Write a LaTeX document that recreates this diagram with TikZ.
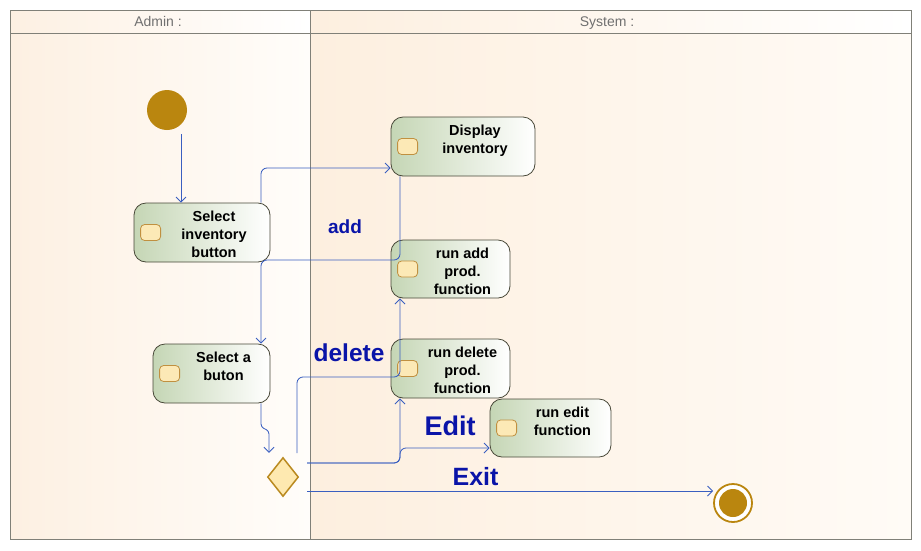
\documentclass[tikz,border=0pt]{standalone}
\usepackage{fontspec}
\setmainfont{Liberation Sans}
\usetikzlibrary{arrows.meta,shapes.geometric,calc}
\definecolor{frameg}{HTML}{808078}
\definecolor{laneL}{HTML}{FDF0E2}
\definecolor{laneR}{HTML}{FFFDFA}
\definecolor{laneL2}{HTML}{FDEFDF}
\definecolor{laneR2}{HTML}{FFFBF6}
\definecolor{headtxt}{HTML}{707070}
\definecolor{actborder}{HTML}{484838}
\definecolor{actL}{HTML}{C5D6B5}
\definecolor{iconfill}{HTML}{FCE9B6}
\definecolor{iconborder}{HTML}{C09040}
\definecolor{gold}{HTML}{BA860F}
\definecolor{diafill}{HTML}{FEE9B0}
\definecolor{diaborder}{HTML}{BA8A20}
\definecolor{flowblue}{HTML}{3A5FC0}
\definecolor{lblblue}{HTML}{0A14A8}
\newcommand\actbox[6]{%
  \node[act, minimum width=#4pt, minimum height=#5pt] (#1) at (#2,#3) {};
  \node[icon] (#1i) at ([xshift=17pt]#1.west) {};
  \node[acttext, anchor=north] (#1t) at ([xshift=12pt,yshift=-8.5pt]#1.north) {#6};
}
\begin{document}
\begin{tikzpicture}[x=1pt,y=-1pt,
  act/.style={draw=actborder, rounded corners=12pt, left color=actL, right color=white, inner sep=0pt, line width=0.8pt},
  icon/.style={draw=iconborder, fill=iconfill, rounded corners=4pt, minimum width=20pt, minimum height=16pt, inner sep=0pt, line width=0.8pt},
  acttext/.style={font=\bfseries\fontsize{14.5}{18}\selectfont, align=center, inner sep=0pt},
  lbl/.style={text=lblblue, font=\bfseries, inner sep=0pt},
  flow/.style={draw=flowblue, line width=0.85pt, rounded corners=6pt, -{Straight Barb[length=5pt,width=10pt]}},
  frame/.style={draw=frameg, line width=0.8pt},
  head/.style={text=headtxt, font=\fontsize{14}{16}\selectfont, inner sep=0pt, anchor=base}]
\useasboundingbox (0,0) rectangle (921,550);
\fill[white] (0,0) rectangle (921,550);
% lanes
\shade[left color=laneL, right color=laneR] (10,33) rectangle (310,539);
\shade[left color=laneL2, right color=laneR2] (310,33) rectangle (911,539);
\shade[left color=laneL, right color=white] (10,10) rectangle (310,33);
\shade[left color=laneL2, right color=white] (310,10) rectangle (911,33);
\draw[frame] (10,10) rectangle (911,539);
\draw[frame] (10,33) -- (911,33);
\draw[frame] (310,10) -- (310,539);
\node[head] (hA) at (158,26.5) {Admin :};
\node[head] (hS) at (607,26.5) {System :};
% nodes
\node[circle, fill=gold, minimum size=40pt, inner sep=0pt] (init) at (167,110) {};
\actbox{sib}{202}{232.5}{136}{59}{Select\\inventory\\button}
\actbox{disp}{463}{146.5}{144}{59}{Display\\inventory}
\actbox{add}{450.5}{269}{119}{58}{run add\\prod.\\function}
\actbox{sab}{211.5}{373.5}{117}{59}{Select a\\buton}
\actbox{del}{450.5}{368.5}{119}{59}{run delete\\prod.\\function}
\actbox{edit}{550.5}{428}{121}{58}{run edit\\function}
\node[diamond, draw=diaborder, fill=diafill, line width=1.5pt, minimum width=31pt, minimum height=39pt, inner sep=0pt] (dia) at (283,477) {};
\node[circle, draw=gold, line width=1.8pt, fill=white, minimum size=38pt, inner sep=0pt] (fin) at (733,503) {};
\node[circle, fill=gold, minimum size=28pt, inner sep=0pt] (fini) at (fin.center) {};
% connectors
\coordinate (c0) at (181,134);
\draw[flow] (c0) -- (c0 |- sib.north);
\draw[flow] ([xshift=59pt]sib.north) -- (261,168) -- ([yshift=-21.5pt]disp.west);
\draw[flow] ([xshift=-63pt]disp.south) -- (400,260) -- (261,260) -- ([xshift=49.5pt]sab.north);
\coordinate (d1) at ([xshift=-14pt,yshift=4pt]dia.north);
\draw[flow, rounded corners=3pt] ([xshift=49.5pt]sab.south) -- (261,427) -- (269,431) -- (d1);
\coordinate (d2) at (297,453);
\draw[flow] (d2) -- (297,377) -- (400,377) -- ([xshift=-50.5pt]add.south);
\coordinate (d3) at (307,463);
\draw[flow] (d3) -- (400,463) -- ([xshift=-50.5pt]del.south);
\draw[flow] (d3) -- (400,463) -- (400,448) -- ([yshift=-20pt]edit.west);
\coordinate (d4) at (307,491);
\draw[flow] (d4) -- (d4 -| fin.west);
% labels
\node[lbl, font=\bfseries\fontsize{19}{20}\selectfont] (ladd) at (345,227) {add};
\node[lbl, font=\bfseries\fontsize{24.5}{26}\selectfont] (ldel) at (349,353) {delete};
\node[lbl, font=\bfseries\fontsize{27}{28}\selectfont] (ledit) at (450,425.5) {Edit};
\node[lbl, font=\bfseries\fontsize{25}{26}\selectfont] (lexit) at (475.5,476.5) {Exit};
\end{tikzpicture}
\end{document}
